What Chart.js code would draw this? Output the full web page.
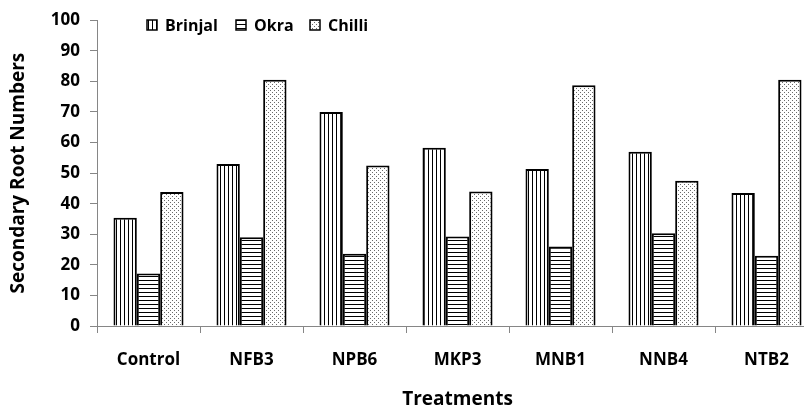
<!DOCTYPE html>
<html>
<head>
<meta charset="utf-8">
<script src="https://cdn.jsdelivr.net/npm/chart.js@4"></script>
<style>
  html, body { margin: 0; padding: 0; background: #fff; overflow: hidden; }
  #wrap { width: 830px; height: 413px; }
</style>
</head>
<body>
<div id="wrap"><canvas id="grafico" width="830" height="413"></canvas></div>
<script>
const treatments = ["Control", "NFB3", "NPB6", "MKP3", "MNB1", "NNB4", "NTB2"];
const brinjal = [35.4, 53, 70, 58.3, 51.3, 57, 43.5];
const okra = [17.2, 29, 23.6, 29.3, 26, 30.3, 23];
const chilli = [43.8, 80.5, 52.5, 44, 78.7, 47.5, 80.5];
const yTicks = [0, 10, 20, 30, 40, 50, 60, 70, 80, 90, 100];

const FONT = "'Open Sans', sans-serif";

function makePattern(kind) {
  const c = document.createElement("canvas");
  c.width = 4; c.height = 4;
  const g = c.getContext("2d");
  g.fillStyle = "#fff";
  g.fillRect(0, 0, 4, 4);
  if (kind === "vert") {
    g.fillStyle = "#000";
    g.fillRect(0, 0, 1, 4);
  } else if (kind === "horiz") {
    g.fillStyle = "#000";
    g.fillRect(0, 0, 4, 1);
  } else {
    g.fillStyle = "#6a6a6a";
    g.fillRect(0, 0, 1, 1);
    g.fillRect(2, 2, 1, 1);
  }
  return g.createPattern(c, "repeat");
}

const patBrinjal = makePattern("vert");
const patOkra = makePattern("horiz");
const patChilli = makePattern("dots");

// legenda disegnata dentro l'area del grafico
const legendaInterna = {
  id: "legendaInterna",
  afterDraw(chart) {
    const ctx = chart.ctx;
    const pos = [147, 236, 310];
    ctx.save();
    ctx.font = "bold 16px " + FONT;
    ctx.textBaseline = "middle";
    chart.data.datasets.forEach((ds, i) => {
      const x = pos[i], y = 25;
      ctx.fillStyle = ds.backgroundColor;
      ctx.fillRect(x, y - 5, 10, 10);
      ctx.strokeStyle = "#000";
      ctx.lineWidth = 1.5;
      ctx.strokeRect(x, y - 5, 10, 10);
      ctx.fillStyle = "#000";
      ctx.fillText(ds.label, x + 18, y + 1);
    });
    ctx.restore();
  }
};

const ctx = document.getElementById("grafico").getContext("2d");
new Chart(ctx, {
  type: "bar",
  data: {
    labels: treatments,
    datasets: [
      { label: "Brinjal", data: brinjal, backgroundColor: patBrinjal, borderColor: "#000", borderWidth: 2 },
      { label: "Okra", data: okra, backgroundColor: patOkra, borderColor: "#000", borderWidth: 2 },
      { label: "Chilli", data: chilli, backgroundColor: patChilli, borderColor: "#000", borderWidth: 2 }
    ]
  },
  options: {
    responsive: false,
    animation: false,
    devicePixelRatio: 1,
    layout: { padding: { top: 18, right: 12, left: 0, bottom: 0 } },
    datasets: { bar: { categoryPercentage: 0.68, barPercentage: 1.0 } },
    plugins: { legend: { display: false }, tooltip: { enabled: false } },
    scales: {
      x: {
        grid: { drawOnChartArea: false, drawTicks: true, tickLength: 7, color: "#868686", offset: true },
        border: { color: "#868686", width: 1 },
        ticks: { color: "#000", font: { family: FONT, size: 17, weight: "bold" }, padding: 17, maxRotation: 0 },
        title: { display: true, text: "Treatments", color: "#000", font: { family: FONT, size: 19, weight: "bold" }, padding: { top: 0, bottom: 2 } },
        afterFit(scale) { scale.height = 87; }
      },
      y: {
        min: 0,
        max: 100,
        afterBuildTicks(scale) { scale.ticks = yTicks.map(v => ({ value: v })); },
        grid: { drawOnChartArea: false, drawTicks: true, tickLength: 7, color: "#868686" },
        border: { color: "#868686", width: 1 },
        ticks: { color: "#000", font: { family: FONT, size: 17, weight: "bold" }, padding: 10 },
        title: { display: true, text: "Secondary Root Numbers", color: "#000", font: { family: FONT, size: 19, weight: "bold" }, padding: { top: 7, bottom: 0 } },
        afterFit(scale) { scale.width = 97; }
      }
    }
  },
  plugins: [legendaInterna]
});
</script>
</body>
</html>
